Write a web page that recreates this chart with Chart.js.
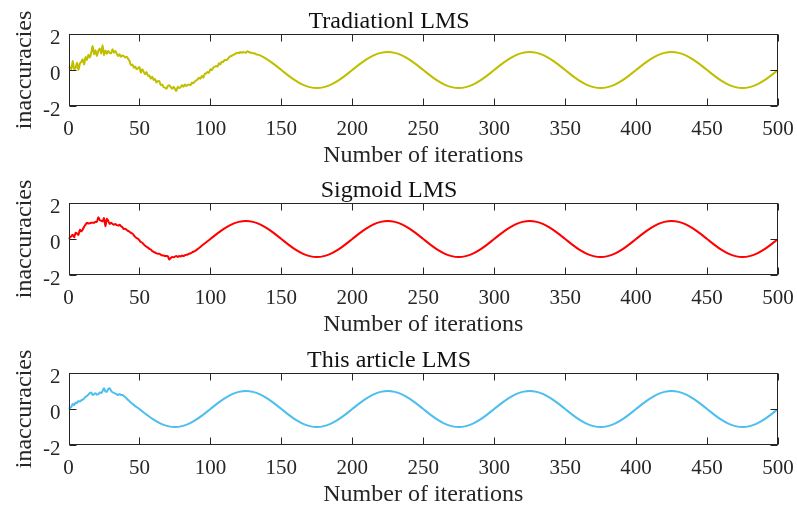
<!DOCTYPE html>
<html>
<head>
<meta charset="utf-8">
<script src="https://cdn.jsdelivr.net/npm/chart.js@4"></script>
<style>
  html, body { margin: 0; padding: 0; background: #fff; overflow: hidden; }
  .panel { position: absolute; left: 0; width: 797px; height: 169px; }
</style>
</head>
<body>
<div class="panel" style="top:0px"><canvas id="chart-traditional" width="797" height="169"></canvas></div>
<div class="panel" style="top:169px"><canvas id="chart-sigmoid" width="797" height="169"></canvas></div>
<div class="panel" style="top:339px"><canvas id="chart-article" width="797" height="169"></canvas></div>
<script>
// Axis ticks
const xTicks = [0, 50, 100, 150, 200, 250, 300, 350, 400, 450, 500];
const yTicks = [-2, 0, 2];

// Settled error curve, one value every 5 iterations (0..500)
const waveStep = 5;
const waveValues = [
  0, 0.31, 0.59, 0.81, 0.95, 1, 0.95, 0.81, 0.59, 0.31, 0, -0.31, -0.59, -0.81, -0.95, -1, -0.95, -0.81, -0.59, -0.31,
  0, 0.31, 0.59, 0.81, 0.95, 1, 0.95, 0.81, 0.59, 0.31, 0, -0.31, -0.59, -0.81, -0.95, -1, -0.95, -0.81, -0.59, -0.31,
  0, 0.31, 0.59, 0.81, 0.95, 1, 0.95, 0.81, 0.59, 0.31, 0, -0.31, -0.59, -0.81, -0.95, -1, -0.95, -0.81, -0.59, -0.31,
  0, 0.31, 0.59, 0.81, 0.95, 1, 0.95, 0.81, 0.59, 0.31, 0, -0.31, -0.59, -0.81, -0.95, -1, -0.95, -0.81, -0.59, -0.31,
  0, 0.31, 0.59, 0.81, 0.95, 1, 0.95, 0.81, 0.59, 0.31, 0, -0.31, -0.59, -0.81, -0.95, -1, -0.95, -0.81, -0.59, -0.31,
  0
];

// Noisy start of each filter, one value per iteration from 0
const traditionalHead = [
  0.10, 0.15, 0.05, 0.50, 0.05, 0.12, 0.40, 0.00, 0.35, 0.45,
  0.60, 0.30, 0.72, 0.55, 0.85, 0.70, 0.95, 1.33, 0.88, 1.10,
  0.78, 1.05, 1.20, 0.92, 1.37, 0.82, 1.08, 0.90, 1.05, 0.95,
  0.93, 1.15, 0.96, 1.06, 0.90, 0.78, 0.87, 0.74, 0.81, 0.78,
  0.69, 0.74, 0.62, 0.50, 0.27, 0.31, 0.13, 0.19, 0.04, 0.10,
  0.17, -0.15, 0.04, -0.10, -0.24, -0.11, -0.33, -0.30, -0.48, -0.37,
  -0.55, -0.50, -0.70, -0.62, -0.61, -0.85, -0.80, -0.95, -0.98, -1.04,
  -0.89, -0.85, -0.95, -1.04, -0.93, -1.04, -1.17, -0.93, -1.00, -0.95,
  -0.85, -0.93, -0.80, -0.89, -0.82, -0.80, -0.85, -0.70, -0.74, -0.64,
  -0.58, -0.52, -0.43, -0.48, -0.33, -0.43, -0.22, -0.19, -0.11, -0.15,
  0.04, 0.00, 0.13, 0.18, 0.22, 0.19, 0.37, 0.31, 0.46, 0.44,
  0.56, 0.55, 0.59, 0.69, 0.76, 0.79, 0.84, 0.87, 0.93, 0.96,
  0.93, 1.00, 0.96, 1.00, 0.98, 0.96, 1.04, 1.00, 0.97, 0.96,
  0.93, 0.93, 0.88, 0.86, 0.84, 0.81
];

const sigmoidHead = [
  0.00, 0.08, 0.15, 0.24, 0.10, 0.35, 0.30, 0.22, 0.52, 0.42,
  0.53, 0.68, 0.80, 0.90, 0.86, 0.88, 0.90, 0.90, 0.90, 0.96,
  0.94, 1.21, 1.05, 1.02, 0.97, 1.16, 0.71, 1.12, 1.00, 0.84,
  0.90, 0.84, 0.79, 0.84, 0.77, 0.75, 0.79, 0.71, 0.66, 0.55,
  0.57, 0.50, 0.45, 0.40, 0.34, 0.30, 0.21, 0.12, 0.05, 0.01,
  -0.08, -0.17, -0.21, -0.30, -0.38, -0.43, -0.48, -0.55, -0.58, -0.67,
  -0.72, -0.75, -0.80, -0.82, -0.82, -0.87, -0.91, -0.92, -0.94, -0.95,
  -0.96, -1.14, -1.06, -1.00, -1.02, -0.98, -0.95, -1.00, -0.95, -0.97,
  -0.92, -0.95, -0.90, -0.88, -0.86, -0.82, -0.80, -0.75, -0.71, -0.68,
  -0.62
];

const articleHead = [
  0.00, 0.06, 0.12, 0.28, 0.22, 0.36, 0.34, 0.44, 0.41, 0.48,
  0.52, 0.58, 0.68, 0.72, 0.80, 0.88, 0.92, 0.78, 0.83, 0.88,
  0.80, 0.82, 0.92, 0.89, 1.00, 1.15, 0.98, 0.96, 1.10, 1.15,
  1.02, 0.93, 0.90, 0.85, 0.82, 0.78, 0.83, 0.78, 0.78, 0.72,
  0.66, 0.58, 0.50, 0.43, 0.36, 0.29, 0.23, 0.16, 0.11, 0.05,
  0.00, -0.07, -0.13
];

const panels = [
  { id: "chart-traditional", title: "Tradiationl LMS", head: traditionalHead, color: "#bfbf00" },
  { id: "chart-sigmoid", title: "Sigmoid LMS", head: sigmoidHead, color: "#ff0000" },
  { id: "chart-article", title: "This article LMS", head: articleHead, color: "#4dbeee" }
];

const textColor = "#262626";
const serif = "'Liberation Serif', 'Times New Roman', serif";

// Noisy part first, then the settled curve after it
function buildPoints(head) {
  const points = head.map((y, i) => ({ x: i, y: y }));
  const lastX = head.length - 1;
  waveValues.forEach((y, i) => {
    const x = i * waveStep;
    if (x > lastX) points.push({ x: x, y: y });
  });
  return points;
}

// Box round the plot area with inward tick marks on all four sides
const axisBox = {
  id: "axisBox",
  afterDatasetsDraw(chart) {
    const { ctx, chartArea: a, scales } = chart;
    const left = Math.round(a.left) + 0.5;
    const right = Math.round(a.right) - 0.5;
    const top = Math.round(a.top) + 0.5;
    const bottom = Math.round(a.bottom) - 0.5;
    const len = 7;
    ctx.save();
    ctx.strokeStyle = textColor;
    ctx.lineWidth = 1;
    ctx.strokeRect(left, top, right - left, bottom - top);
    ctx.beginPath();
    scales.x.ticks.forEach((t) => {
      const px = Math.round(scales.x.getPixelForValue(t.value)) + 0.5;
      ctx.moveTo(px, bottom);
      ctx.lineTo(px, bottom - len);
      ctx.moveTo(px, top);
      ctx.lineTo(px, top + len);
    });
    scales.y.ticks.forEach((t) => {
      const py = Math.round(scales.y.getPixelForValue(t.value)) + 0.5;
      ctx.moveTo(left, py);
      ctx.lineTo(left + len, py);
      ctx.moveTo(right, py);
      ctx.lineTo(right - len, py);
    });
    ctx.stroke();
    ctx.restore();
  }
};

panels.forEach((p) => {
  new Chart(document.getElementById(p.id), {
    type: "line",
    data: {
      datasets: [
        {
          data: buildPoints(p.head),
          borderColor: p.color,
          borderWidth: 2,
          pointRadius: 0,
          fill: false,
          cubicInterpolationMode: "monotone"
        }
      ]
    },
    options: {
      responsive: false,
      animation: false,
      layout: { padding: { left: 0, right: 19, top: 0, bottom: 0 } },
      plugins: {
        legend: { display: false },
        tooltip: { enabled: false },
        title: {
          display: true,
          text: p.title,
          color: "#111",
          font: { family: serif, size: 24, weight: "normal", lineHeight: 1 },
          padding: { top: 10, bottom: 0 }
        }
      },
      scales: {
        x: {
          type: "linear",
          min: 0,
          max: 500,
          afterBuildTicks: (s) => { s.ticks = xTicks.map((v) => ({ value: v })); },
          afterFit: (s) => {
            s.height = 63;
            s.paddingLeft = 0;
            s.paddingRight = 0;
          },
          grid: { display: false, drawTicks: false },
          border: { display: false },
          ticks: {
            color: textColor,
            font: { family: serif, size: 21 },
            padding: 11,
            maxRotation: 0,
            autoSkip: false
          },
          title: {
            display: true,
            text: "Number of iterations",
            color: textColor,
            font: { family: serif, size: 24, lineHeight: 1 },
            padding: { top: 0, bottom: 1 }
          }
        },
        y: {
          min: -2,
          max: 2,
          afterBuildTicks: (s) => { s.ticks = yTicks.map((v) => ({ value: v })); },
          afterFit: (s) => {
            s.width = 68.5;
            s.paddingTop = 0;
            s.paddingBottom = 0;
          },
          grid: { display: false, drawTicks: false },
          border: { display: false },
          ticks: {
            color: textColor,
            font: { family: serif, size: 21 },
            padding: 8,
            labelOffset: 4
          },
          title: {
            display: true,
            text: "inaccuracies",
            color: textColor,
            font: { family: serif, size: 24, lineHeight: 1 },
            padding: { top: 13, bottom: 0 }
          }
        }
      }
    },
    plugins: [axisBox]
  });
});
</script>
</body>
</html>
